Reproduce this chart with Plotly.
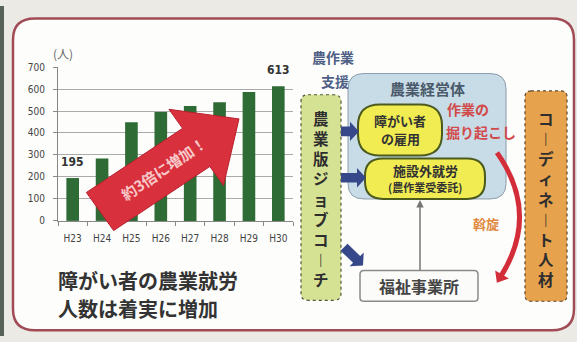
import math
import plotly.graph_objects as go

W, H = 577, 342

# ---- data ----
years = ["H23", "H24", "H25", "H26", "H27", "H28", "H29", "H30"]
workers = [195, 284, 449, 496, 523, 540, 587, 613]
y_tick_values = [0, 100, 200, 300, 400, 500, 600, 700]
labelled_years = ["H23", "H30"]

CJK = "Noto Sans CJK JP, sans-serif"
NARROW = "Liberation Sans Narrow, DejaVu Sans Condensed, Arial Narrow, sans-serif"


def px(x):
    return x / W


def py(y):
    return 1 - y / H


def P(x, y):
    return f"{px(x):.5f},{py(y):.5f}"


def poly(points):
    return "M " + " L ".join(P(x, y) for x, y in points) + " Z"


def rrect(x0, y0, x1, y1, r):
    return (f"M {P(x0 + r, y0)} L {P(x1 - r, y0)} Q {P(x1, y0)} {P(x1, y0 + r)} "
            f"L {P(x1, y1 - r)} Q {P(x1, y1)} {P(x1 - r, y1)} L {P(x0 + r, y1)} "
            f"Q {P(x0, y1)} {P(x0, y1 - r)} L {P(x0, y0 + r)} Q {P(x0, y0)} {P(x0 + r, y0)} Z")


def arrow(x0, y0, x1, y1, sw, hw, hl):
    dx, dy = x1 - x0, y1 - y0
    L = math.hypot(dx, dy)
    ux, uy = dx / L, dy / L
    nx, ny = -uy, ux
    bx, by = x1 - hl * ux, y1 - hl * uy
    pts = [(x0 + sw * nx, y0 + sw * ny), (bx + sw * nx, by + sw * ny),
           (bx + hw * nx, by + hw * ny), (x1, y1),
           (bx - hw * nx, by - hw * ny), (bx - sw * nx, by - sw * ny),
           (x0 - sw * nx, y0 - sw * ny)]
    return poly(pts)


def shape_path(path, fill=None, line_color=None, line_width=0, dash="solid", layer="above"):
    return dict(type="path", path=path, xref="paper", yref="paper",
                fillcolor=fill if fill else "rgba(0,0,0,0)",
                line=dict(color=line_color if line_color else "rgba(0,0,0,0)",
                          width=line_width, dash=dash),
                layer=layer)


def txt(x, y, s, size, color, bold=True, angle=0, family=CJK, xanchor="center"):
    return dict(x=px(x), y=py(y), xref="paper", yref="paper", text=s, showarrow=False,
                font=dict(size=size, color=color, family=family, weight=700 if bold else 400),
                textangle=angle, xanchor=xanchor, yanchor="middle")


def vtext(x, y, s, size, color):
    # vertical writing: one character per line, long vowel mark in its vertical form
    chars = ["︱" if ch == "ー" else ch for ch in s]
    return txt(x, y, "<br>".join(chars), size, color)


fig = go.Figure()
fig.add_trace(go.Bar(x=years, y=workers, marker=dict(color="#2f6b34", line=dict(width=0)),
                     hoverinfo="x+y"))

shapes = []
# background / frame
shapes.append(dict(type="rect", xref="paper", yref="paper", x0=0, x1=px(4), y0=0, y1=1,
                   fillcolor="#56625a", line=dict(width=0), layer="below"))
shapes.append(shape_path(rrect(13, 13, 574, 336, 22), fill="#fdfdfb",
                         line_color="#a04b55", line_width=2.5, layer="below"))

# big red arrow over the chart
shapes.append(shape_path(arrow(100, 213, 239, 117, 24, 48, 52), fill="#d9303e",
                         line_color="#b8202e", line_width=1))

# right-side diagram
shapes.append(shape_path(rrect(348, 70, 506, 200, 16), fill="#c8dce8",
                         line_color="#8c9cab", line_width=1))
shapes.append(shape_path(rrect(301, 92, 341, 305, 7), fill="#d6e293",
                         line_color="#4e5a38", line_width=1.2, dash="dot"))
shapes.append(shape_path(rrect(525, 88, 567, 306, 6), fill="#e6a24c",
                         line_color="#5a4630", line_width=1.2, dash="dot"))
shapes.append(shape_path(rrect(358, 102, 442, 155, 22), fill="#f0ec52",
                         line_color="#4c5a1e", line_width=2))
shapes.append(shape_path(rrect(365, 158, 485, 200, 18), fill="#f0ec52",
                         line_color="#4c5a1e", line_width=2))
shapes.append(shape_path(rrect(360, 274, 478, 306, 4), fill="#fbfbfa",
                         line_color="#8a8a8a", line_width=1.5))

# navy arrows
for (a, b, c, d) in [(341, 130, 359, 130), (341, 178, 366, 178), (344, 250, 363, 269)]:
    shapes.append(shape_path(arrow(a, b, c, d, 5, 10, 9), fill="#36488a"))

# red curved arrow
x0, y0, cx, cy, x1, y1 = 497, 152, 540, 215, 501, 280
shapes.append(dict(type="path", xref="paper", yref="paper",
                   path=f"M {P(x0, y0)} Q {P(cx, cy)} {P(x1, y1)}",
                   line=dict(color="#d42d3a", width=5)))
tx, ty = x1 - cx, y1 - cy
tl = math.hypot(tx, ty)
ux, uy = tx / tl, ty / tl
nx, ny = -uy, ux
shapes.append(shape_path(poly([(x1 + 8 * ux, y1 + 8 * uy), (x1 + 8 * nx - 2 * ux, y1 + 8 * ny - 2 * uy),
                               (x1 - 8 * nx - 2 * ux, y1 - 8 * ny - 2 * uy)]), fill="#d42d3a"))

annotations = []
# chart labels
annotations.append(txt(63, 49, "(人)", 12, "#666", bold=False))
for yr, v in zip(years, workers):
    if yr in labelled_years:
        annotations.append(dict(x=yr, y=v, xref="x", yref="y", text=str(v), showarrow=False,
                                yanchor="bottom", yshift=7,
                                font=dict(size=12, color="#333", family=NARROW, weight=700)))
annotations.append(txt(163, 168, "約3倍に増加！", 15, "#f8c8c8", angle=-34))
annotations.append(txt(56, 284, "障がい者の農業就労", 20, "#333", xanchor="left"))
annotations.append(txt(56, 313, "人数は着実に増加", 20, "#333", xanchor="left"))

# diagram labels
annotations.append(txt(333, 53, "農作業", 14, "#4f5f86"))
annotations.append(txt(335, 78, "支援", 14, "#4f5f86"))
annotations.append(txt(427, 85, "農業経営体", 15, "#4a5a6a"))
annotations.append(txt(400, 119, "障がい者", 13, "#333"))
annotations.append(txt(400, 137, "の雇用", 13, "#333"))
annotations.append(txt(425, 170, "施設外就労", 13, "#333"))
annotations.append(txt(425, 188, "(農作業受委託)", 11, "#333"))
annotations.append(txt(445, 107, "作業の", 14, "#d24a4a", xanchor="left"))
annotations.append(txt(444, 131, "掘り起こし", 14, "#d24a4a", xanchor="left"))
annotations.append(txt(486, 225, "斡旋", 13, "#e0893f"))
annotations.append(txt(419, 290, "福祉事業所", 16, "#444"))
annotations.append(vtext(321, 200, "農業版ジョブコーチ", 15.5, "#2e2e2e"))
annotations.append(vtext(546, 199, "コーディネート人材", 15.5, "#2e2e2e"))
# gray connector arrow
annotations.append(dict(x=px(420), y=py(201), xref="paper", yref="paper", text="",
                        showarrow=True, ax=0, ay=72, arrowhead=2, arrowsize=1,
                        arrowwidth=1.5, arrowcolor="#777"))

fig.update_layout(
    width=W, height=H, autosize=False,
    margin=dict(l=0, r=0, t=0, b=0),
    paper_bgcolor="#ebeae5", plot_bgcolor="rgba(0,0,0,0)",
    showlegend=False, bargap=0.57,
    shapes=shapes, annotations=annotations,
    xaxis=dict(domain=[58 / W, 293 / W], type="category", showline=True, linecolor="#888",
               ticks="outside", tickson="boundaries", ticklen=4, tickcolor="#888",
               tickfont=dict(size=10, color="#444", family=NARROW), ticklabelstandoff=8,
               showgrid=False),
    yaxis=dict(domain=[1 - 222.7 / H, 1 - 63.3 / H], range=[0, 700], tickvals=y_tick_values,
               showline=True, linecolor="#888", ticks="outside", ticklen=4, tickcolor="#888",
               gridcolor="#aaaaaa", gridwidth=1, zeroline=False,
               tickfont=dict(size=10, color="#444", family=NARROW), ticklabelstandoff=6),
)

fig.write_html("out.html")
